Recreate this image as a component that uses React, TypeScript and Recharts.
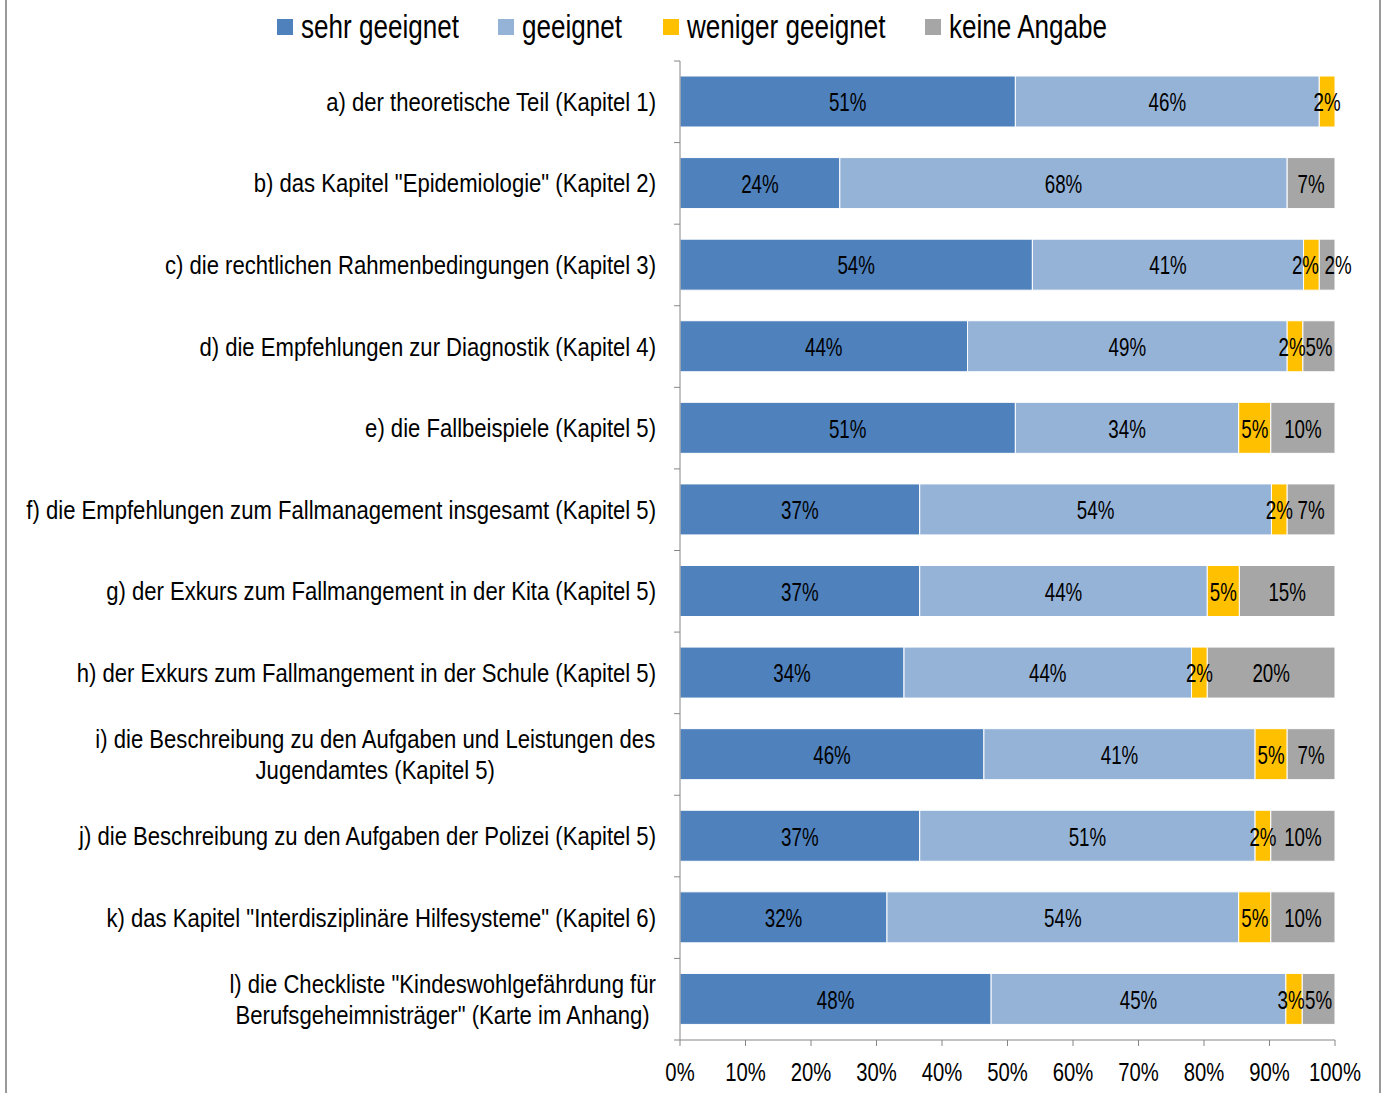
import { BarChart, Bar, XAxis, YAxis, Legend, LabelList } from "recharts";

const categories = [
  "a) der theoretische Teil (Kapitel 1)",
  'b) das Kapitel "Epidemiologie" (Kapitel 2)',
  "c) die rechtlichen Rahmenbedingungen (Kapitel 3)",
  "d) die Empfehlungen zur Diagnostik (Kapitel 4)",
  "e) die Fallbeispiele (Kapitel 5)",
  "f) die Empfehlungen zum Fallmanagement insgesamt (Kapitel 5)",
  "g) der Exkurs zum Fallmangement in der Kita (Kapitel 5)",
  "h) der Exkurs zum Fallmangement in der Schule (Kapitel 5)",
  "i) die Beschreibung zu den Aufgaben und Leistungen des\nJugendamtes (Kapitel 5)",
  "j) die Beschreibung zu den Aufgaben der Polizei (Kapitel 5)",
  'k) das Kapitel "Interdisziplinäre Hilfesysteme" (Kapitel 6)',
  'l) die Checkliste "Kindeswohlgefährdung für\nBerufsgeheimnisträger" (Karte im Anhang)',
];

const sehrGeeignet = [51.2, 24.4, 53.8, 43.9, 51.2, 36.6, 36.6, 34.2, 46.4, 36.6, 31.6, 47.5];
const geeignet = [46.4, 68.3, 41.4, 48.8, 34.1, 53.7, 43.9, 43.9, 41.4, 51.2, 53.7, 45.0];
const wenigerGeeignet = [2.4, 0, 2.4, 2.4, 4.9, 2.4, 4.9, 2.4, 4.9, 2.4, 4.9, 2.5];
const keineAngabe = [0, 7.3, 2.4, 4.9, 9.8, 7.3, 14.6, 19.5, 7.3, 9.8, 9.8, 5.0];

const xTicks = [0, 10, 20, 30, 40, 50, 60, 70, 80, 90, 100];

const series = [
  { key: "sehr", name: "sehr geeignet", color: "#4F81BD" },
  { key: "geeignet", name: "geeignet", color: "#95B3D7" },
  { key: "weniger", name: "weniger geeignet", color: "#FFC000" },
  { key: "keine", name: "keine Angabe", color: "#A6A6A6" },
];

const data = categories.map((cat, i) => ({
  cat,
  sehr: sehrGeeignet[i],
  geeignet: geeignet[i],
  weniger: wenigerGeeignet[i],
  keine: keineAngabe[i],
}));

// no Arial Narrow here: squeeze Liberation Sans horizontally instead
const font = '"Liberation Sans", Arial, sans-serif';
const axisColor = "#868686";
const plotLeft = 680;
const plotTop = 61;
const plotBottom = 1040;
const band = (plotBottom - plotTop) / categories.length;

const catFont = { size: 26, sx: 0.85 };
const valFont = { size: 25, sx: 0.75 };
const tickFont = { size: 26, sx: 0.78 };
const legendFont = { size: 33, sx: 0.79 };

let ctx: CanvasRenderingContext2D | null = null;
function textWidth(s: string, f: { size: number; sx: number }) {
  if (!ctx) ctx = document.createElement("canvas").getContext("2d");
  if (!ctx) return s.length * f.size * 0.5 * f.sx;
  ctx.font = `${f.size}px ${font}`;
  return ctx.measureText(s).width * f.sx;
}

function NarrowText({ x, y, anchor, f, children }: any) {
  return (
    <text
      transform={`translate(${x},${y}) scale(${f.sx},1)`}
      textAnchor={anchor}
      dy="0.35em"
      fontSize={f.size}
      fontFamily={font}
      fill="#000"
    >
      {children}
    </text>
  );
}

function CategoryTick(props: any) {
  const { y, payload, index } = props;
  const lines = String(payload.value).split("\n");
  const lh = 31;
  const y0 = y - ((lines.length - 1) * lh) / 2;
  const maxW = Math.max(...lines.map((l) => textWidth(l, catFont)));
  const cx = 656 - maxW / 2;
  return (
    <g>
      <line x1={plotLeft - 6} x2={plotLeft} y1={y - band / 2} y2={y - band / 2} stroke={axisColor} />
      {index === categories.length - 1 && (
        <line x1={plotLeft - 6} x2={plotLeft} y1={y + band / 2} y2={y + band / 2} stroke={axisColor} />
      )}
      {lines.map((l, i) => (
        <NarrowText
          key={i}
          x={lines.length > 1 ? cx : 656}
          y={y0 + i * lh}
          anchor={lines.length > 1 ? "middle" : "end"}
          f={catFont}
        >
          {l}
        </NarrowText>
      ))}
    </g>
  );
}

function PercentTick(props: any) {
  const { x, y, payload } = props;
  return (
    <NarrowText x={x} y={y + 24} anchor="middle" f={tickFont}>
      {`${payload.value}%`}
    </NarrowText>
  );
}

function makeLabel(key: string) {
  return (props: any) => {
    const { x, y, width, height, value } = props;
    if (!value) return null;
    // row from the bar's position, so zero segments don't shift things
    const row = Math.floor((y + height / 2 - plotTop) / band);
    const grey = keineAngabe[row] ?? 0;
    let shift = 0;
    if (key === "keine" && width < 20) shift = 11;
    if (key === "weniger" && grey > 0 && grey < 3) shift = -6;
    if (key === "weniger" && grey >= 3 && grey < 6 && width < 20) shift = -3;
    return (
      <NarrowText x={x + width / 2 + shift} y={y + height / 2 + 1} anchor="middle" f={valFont}>
        {`${Math.round(value)}%`}
      </NarrowText>
    );
  };
}

function LegendContent() {
  return (
    <div
      style={{
        display: "flex",
        justifyContent: "center",
        alignItems: "center",
        gap: 40,
        height: 54,
        fontFamily: font,
        fontSize: legendFont.size,
        color: "#000",
      }}
    >
      {series.map((s) => (
        <div key={s.key} style={{ display: "flex", alignItems: "center", gap: 8 }}>
          <span style={{ width: 16, height: 16, background: s.color, display: "inline-block" }} />
          <span style={{ width: textWidth(s.name, legendFont), display: "inline-block", whiteSpace: "nowrap" }}>
            <span
              style={{
                display: "inline-block",
                transform: `scaleX(${legendFont.sx})`,
                transformOrigin: "left",
              }}
            >
              {s.name}
            </span>
          </span>
        </div>
      ))}
    </div>
  );
}

export default function App() {
  return (
    <div style={{ position: "absolute", left: 0, top: 0, width: 1385, height: 1093, background: "#fff" }}>
      <div style={{ position: "absolute", left: 5, top: 0, width: 2, height: 1093, background: "#9a9a9a" }} />
      <div style={{ position: "absolute", left: 1379, top: 0, width: 2, height: 1093, background: "#9a9a9a" }} />
      <BarChart
        width={1385}
        height={1093}
        data={data}
        layout="vertical"
        barSize={51}
        margin={{ top: plotTop - 54, right: 50, bottom: 8, left: 10 }}
      >
        <Legend
          verticalAlign="top"
          content={<LegendContent />}
          wrapperStyle={{ top: 0, left: 0, width: 1385 }}
        />
        <XAxis
          type="number"
          domain={[0, 100]}
          ticks={xTicks}
          stroke={axisColor}
          tick={<PercentTick />}
          tickSize={6}
          height={45}
          interval={0}
        />
        <YAxis
          type="category"
          dataKey="cat"
          width={670}
          stroke={axisColor}
          tickLine={false}
          tick={<CategoryTick />}
          interval={0}
        />
        {series.map((s) => (
          <Bar
            key={s.key}
            dataKey={s.key}
            name={s.name}
            stackId="a"
            fill={s.color}
            stroke="#ffffff"
            strokeWidth={1}
            isAnimationActive={false}
          >
            <LabelList dataKey={s.key} content={makeLabel(s.key)} />
          </Bar>
        ))}
      </BarChart>
    </div>
  );
}
